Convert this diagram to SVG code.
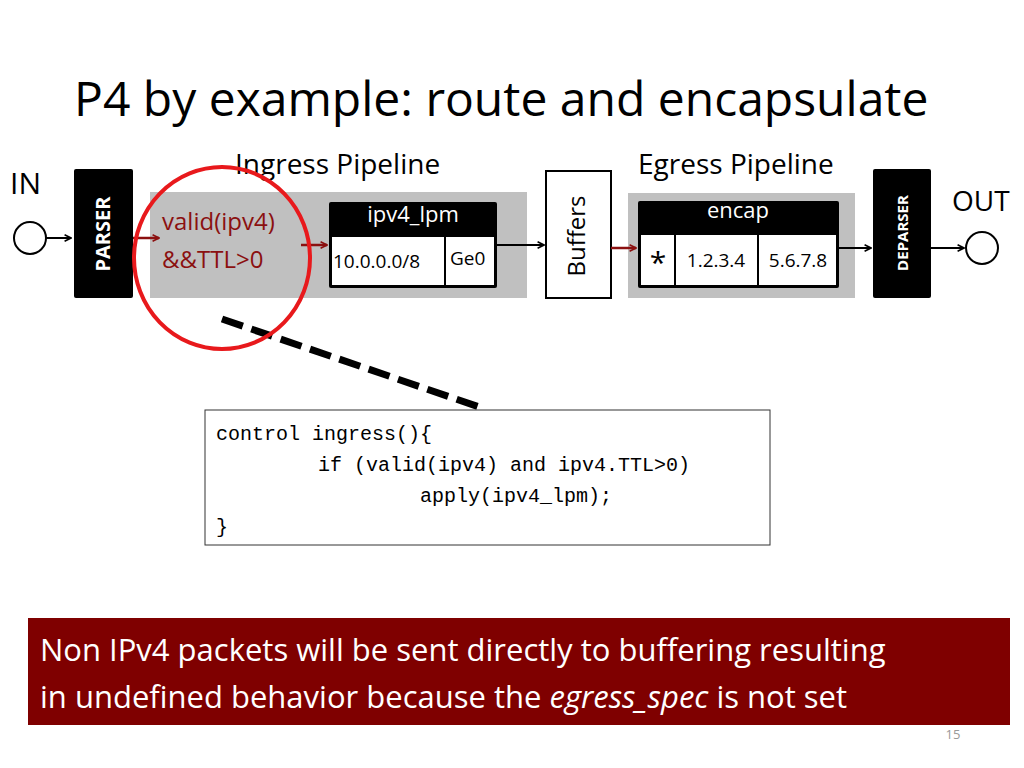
<svg xmlns="http://www.w3.org/2000/svg" width="1024" height="768" viewBox="0 0 1024 768">
<style>
text{font-family:"Open Sans","Liberation Sans",sans-serif}
.blk{fill:#000}
.w{fill:#fff;stroke:#000;stroke-width:2}
.g{fill:#c0c0c0}
.ln{stroke:#000;stroke-width:2;fill:none}
.rd{stroke:#8b1010;stroke-width:2.5;fill:none}
.mono{font-family:"Liberation Mono","DejaVu Sans Mono",monospace;font-size:20px}
</style>
<defs>
<marker id="ab" viewBox="0 0 10 10" refX="9" refY="5" markerWidth="8" markerHeight="8" orient="auto" markerUnits="userSpaceOnUse"><path d="M1,1 L9,5 L1,9" fill="none" stroke="#000" stroke-width="2"/></marker>
<marker id="ar" viewBox="0 0 10 10" refX="9" refY="5" markerWidth="8" markerHeight="8" orient="auto" markerUnits="userSpaceOnUse"><path d="M1,1 L9,5 L1,9" fill="none" stroke="#8b1010" stroke-width="2"/></marker>
</defs>
<rect width="1024" height="768" fill="#fff"/>
<text x="74" y="116" font-size="48" fill="#000">P4 by example: route and encapsulate</text>
<text x="235" y="174" font-size="28">Ingress Pipeline</text>
<text x="638" y="174" font-size="28">Egress Pipeline</text>
<text x="10" y="194" font-size="30">IN</text>
<text x="952" y="211" font-size="28">OUT</text>
<g id="ingress"><rect class="g" x="150" y="192" width="377" height="106"/></g>
<g id="egress"><rect class="g" x="628" y="193" width="227" height="105"/></g>
<g id="in"><circle class="w" cx="30" cy="238" r="16"/></g>
<g id="out"><circle class="w" cx="982" cy="248" r="16"/></g>
<g id="parser"><rect class="blk" x="74" y="169" width="59" height="129" rx="2"/>
<text transform="translate(110,234) rotate(-90)" text-anchor="middle" font-size="20" font-weight="bold" fill="#fff">PARSER</text></g>
<g id="deparser"><rect class="blk" x="873" y="169" width="58" height="129" rx="2"/>
<text transform="translate(908,233) rotate(-90)" text-anchor="middle" font-size="15" font-weight="bold" fill="#fff">DEPARSER</text></g>
<g id="cond"><text x="162" y="230" font-size="24" fill="#8b1010">valid(ipv4)</text><text x="162" y="268" font-size="24" fill="#8b1010">&amp;&amp;TTL&gt;0</text></g>
<g id="ipv4_lpm"><rect x="329" y="202" width="168" height="86" fill="#000" rx="2"/>
<rect x="332" y="237" width="162" height="48" fill="#fff"/>
<line x1="445" y1="237" x2="445" y2="288" stroke="#000" stroke-width="2"/>
<text x="413" y="222" font-size="22" fill="#fff" text-anchor="middle">ipv4_lpm</text>
<text x="333" y="268" font-size="19">10.0.0.0/8</text><text x="450" y="265" font-size="19">Ge0</text></g>
<g id="buffers"><rect class="w" x="546" y="171" width="65" height="127"/>
<text transform="translate(585,236) rotate(-90)" text-anchor="middle" font-size="24">Buffers</text></g>
<g id="encap"><rect x="638" y="201" width="201" height="87" fill="#000" rx="2"/>
<rect x="641" y="235" width="195" height="50" fill="#fff"/>
<line x1="675" y1="235" x2="675" y2="286" stroke="#000" stroke-width="2"/>
<line x1="758" y1="235" x2="758" y2="286" stroke="#000" stroke-width="2"/>
<text x="738" y="218" font-size="22" fill="#fff" text-anchor="middle">encap</text>
<text x="658" y="273" font-size="30" text-anchor="middle">*</text>
<text x="716" y="267" font-size="19" text-anchor="middle">1.2.3.4</text>
<text x="798" y="267" font-size="19" text-anchor="middle">5.6.7.8</text></g>
<g id="connectors">
<line class="ln" x1="46" y1="238" x2="71" y2="238" marker-end="url(#ab)"/>
<line class="rd" x1="133" y1="238" x2="159" y2="238" marker-end="url(#ar)"/>
<line class="rd" x1="301" y1="245" x2="327" y2="245" marker-end="url(#ar)"/>
<line class="ln" x1="497" y1="245" x2="544" y2="245" marker-end="url(#ab)"/>
<line class="rd" x1="611" y1="248" x2="636" y2="248" marker-end="url(#ar)"/>
<line class="ln" x1="839" y1="248" x2="871" y2="248" marker-end="url(#ab)"/>
<line class="ln" x1="931" y1="248" x2="964" y2="248" marker-end="url(#ab)"/>
<line x1="222" y1="319" x2="485" y2="409" stroke="#000" stroke-width="7" stroke-dasharray="22,9"/>
</g>
<ellipse cx="222" cy="258" rx="88" ry="91" fill="none" stroke="#e8191c" stroke-width="4"/>
<g id="code"><rect x="205" y="410" width="565" height="135" fill="#fff" stroke="#333" stroke-width="1"/>
<text class="mono" x="216" y="440">control ingress(){</text>
<text class="mono" x="318" y="471">if (valid(ipv4) and ipv4.TTL&gt;0)</text>
<text class="mono" x="420" y="502">apply(ipv4_lpm);</text>
<text class="mono" x="216" y="533">}</text></g>
<g id="note"><rect x="28" y="618" width="982" height="107" fill="#7f0000"/>
<text x="40" y="661" font-size="31" fill="#fff">Non IPv4 packets will be sent directly to buffering resulting</text>
<text x="40" y="708" font-size="31" fill="#fff">in undefined behavior because the <tspan font-style="italic">egress_spec</tspan> is not set</text></g>
<text x="953" y="739" font-size="13" fill="#999" text-anchor="middle">15</text>
</svg>
